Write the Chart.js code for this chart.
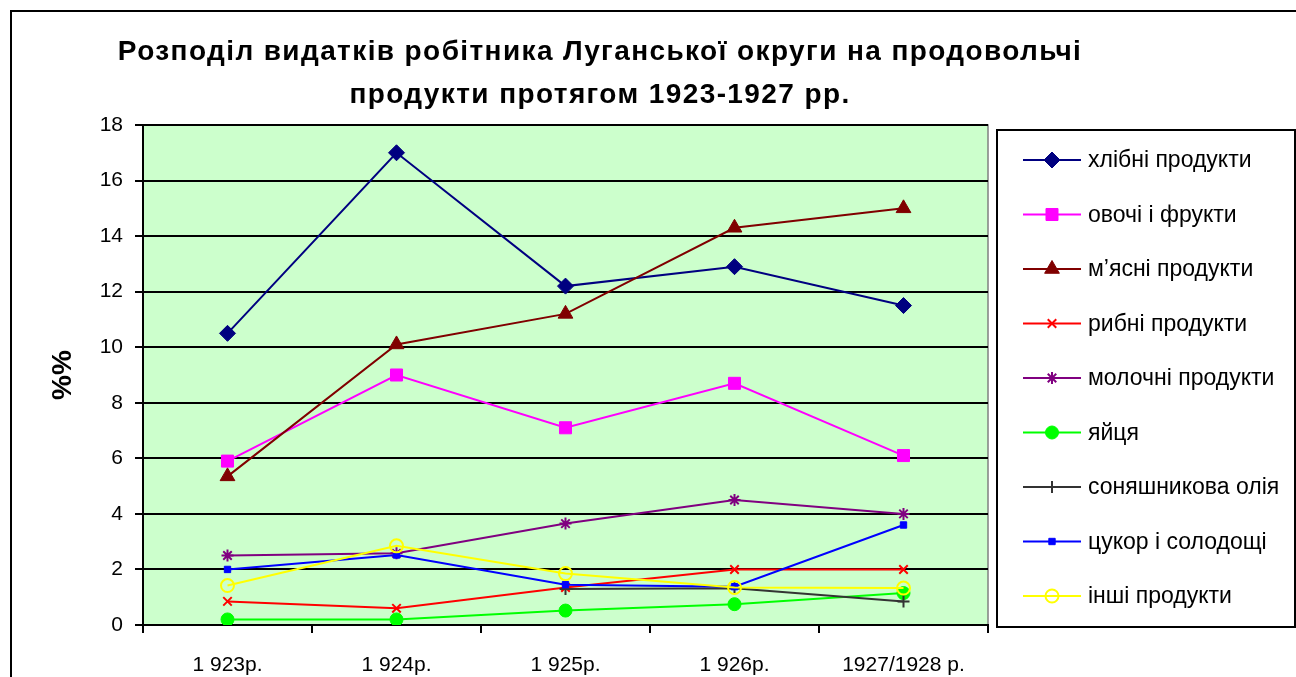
<!DOCTYPE html>
<html>
<head>
<meta charset="utf-8">
<script src="https://cdn.jsdelivr.net/npm/chart.js@4/dist/chart.umd.min.js"></script>
<style>
  html, body { margin: 0; padding: 0; background: #fff; }
  #wrap { width: 1296px; height: 677px; }
</style>
</head>
<body>
<div id="wrap"><canvas id="chart" width="1296" height="677"></canvas></div>
<script>
// Data
const years = ['1 923р.', '1 924р.', '1 925р.', '1 926р.', '1927/1928 р.'];
const yTicks = [0, 2, 4, 6, 8, 10, 12, 14, 16, 18];
const titleLines = [
    'Розподіл видатків робітника Луганської округи на продовольчі',
    'продукти протягом 1923-1927 рр.',
];

const bread = [10.5, 17.0, 12.2, 12.9, 11.5];
const vegetables = [5.9, 9.0, 7.1, 8.7, 6.1];
const meat = [5.35, 10.1, 11.2, 14.3, 15.0];
const fish = [0.85, 0.6, 1.35, 2.0, 2.0];
const dairy = [2.5, 2.58, 3.65, 4.5, 4.0];
const eggs = [0.2, 0.2, 0.52, 0.75, 1.15];
const sunflowerOil = [null, null, 1.3, 1.32, 0.85];
const sugar = [2.0, 2.52, 1.45, 1.38, 3.6];
const other = [1.42, 2.85, 1.85, 1.35, 1.33];

const font = '"Liberation Sans", Arial, sans-serif';

const series = [
    { label: 'хлібні продукти', data: bread, color: '#000080', style: 'rectRot', radius: 8, fill: true },
    { label: 'овочі і фрукти', data: vegetables, color: '#FF00FF', style: 'rect', radius: 8.5, fill: true },
    { label: 'м\u2019ясні продукти', data: meat, color: '#800000', style: 'triangle', radius: 8.5, fill: true },
    { label: 'рибні продукти', data: fish, color: '#FF0000', style: 'crossRot', radius: 6, fill: false },
    { label: 'молочні продукти', data: dairy, color: '#800080', style: 'star', radius: 6, fill: false },
    { label: 'яйця', data: eggs, color: '#00FF00', style: 'circle', radius: 6.5, fill: true },
    { label: 'соняшникова олія', data: sunflowerOil, color: '#333333', style: 'cross', radius: 6, fill: false },
    { label: 'цукор і солодощі', data: sugar, color: '#0000FF', style: 'rect', radius: 4.5, fill: true },
    { label: 'інші продукти', data: other, color: '#FFFF00', style: 'circle', radius: 6.5, fill: false },
];

const datasets = series.map((s, i) => ({
    label: s.label,
    data: s.data,
    borderColor: s.color,
    backgroundColor: s.fill ? s.color : 'rgba(0,0,0,0)',
    borderWidth: 2,
    pointStyle: s.style,
    pointRadius: s.radius,
    pointHoverRadius: s.radius,
    pointBorderWidth: s.fill ? 1 : 2,
    pointBackgroundColor: s.fill ? s.color : 'rgba(0,0,0,0)',
    pointBorderColor: s.color,
    tension: 0,
    spanGaps: false,
    order: series.length - i,
}));

// Frame, plot background, title and legend box
const decor = {
    id: 'decor',
    beforeDraw(chart) {
        const { ctx, chartArea: a } = chart;
        ctx.save();
        ctx.fillStyle = '#ffffff';
        ctx.fillRect(0, 0, chart.width, chart.height);
        ctx.fillStyle = '#CCFFCC';
        ctx.fillRect(a.left, a.top, a.right - a.left, a.bottom - a.top);
        ctx.strokeStyle = '#808080';
        ctx.lineWidth = 1.5;
        ctx.strokeRect(a.left, a.top, a.right - a.left, a.bottom - a.top);
        ctx.strokeStyle = '#000000';
        ctx.lineWidth = 2;
        ctx.beginPath();
        ctx.moveTo(11, chart.height + 5);
        ctx.lineTo(11, 11);
        ctx.lineTo(chart.width + 5, 11);
        ctx.stroke();
        ctx.restore();
    },
    afterDraw(chart) {
        const { ctx } = chart;
        ctx.save();
        ctx.fillStyle = '#000000';
        ctx.textAlign = 'center';
        ctx.textBaseline = 'middle';
        ctx.font = `bold 28px ${font}`;
        ctx.letterSpacing = '1.4px';
        ctx.fillText(titleLines[0], 600, 52);
        ctx.fillText(titleLines[1], 600, 95);
        ctx.letterSpacing = '0px';

        // legend
        ctx.strokeStyle = '#000000';
        ctx.lineWidth = 2;
        ctx.strokeRect(997, 130, 298, 497);
        ctx.textAlign = 'left';
        ctx.font = `23px ${font}`;
        chart.data.datasets.forEach((ds, i) => {
            const y = 160 + i * 54.5;
            ctx.strokeStyle = ds.borderColor;
            ctx.lineWidth = 2;
            ctx.beginPath();
            ctx.moveTo(1023, y);
            ctx.lineTo(1081, y);
            ctx.stroke();
            ctx.fillStyle = ds.pointBackgroundColor;
            ctx.lineWidth = ds.pointBorderWidth;
            Chart.helpers.drawPoint(ctx, {
                pointStyle: ds.pointStyle,
                radius: ds.pointRadius,
                borderWidth: ds.pointBorderWidth,
                rotation: 0,
            }, 1052, y);
            ctx.fillStyle = '#000000';
            ctx.fillText(ds.label, 1088, y + 1);
        });
        ctx.restore();
    },
};

const ctx = document.getElementById('chart').getContext('2d');

// eslint-disable-next-line no-new
new Chart(ctx, {
    type: 'line',
    data: {
        labels: years,
        datasets,
    },
    options: {
        responsive: false,
        animation: false,
        events: [],
        layout: {
            padding: { top: 125, right: 308, bottom: 0, left: 0 },
        },
        plugins: {
            legend: { display: false },
            title: { display: false },
            tooltip: { enabled: false },
        },
        scales: {
            x: {
                offset: true,
                afterFit: (scale) => { scale.height = 52; },
                border: { display: true, color: '#000000', width: 2 },
                grid: {
                    offset: true,
                    drawOnChartArea: false,
                    drawTicks: true,
                    tickLength: 8,
                    color: '#000000',
                    lineWidth: 2,
                },
                ticks: {
                    color: '#000000',
                    padding: 20,
                    font: { family: font, size: 21 },
                    maxRotation: 0,
                },
            },
            y: {
                min: 0,
                max: 18,
                afterFit: (scale) => { scale.width = 143; },
                afterBuildTicks: (scale) => { scale.ticks = yTicks.map((v) => ({ value: v })); },
                border: { display: true, color: '#000000', width: 2 },
                grid: {
                    color: '#000000',
                    lineWidth: 2,
                    tickLength: 8,
                    drawTicks: true,
                },
                ticks: {
                    color: '#000000',
                    padding: 12,
                    font: { family: font, size: 21 },
                },
                title: {
                    display: true,
                    text: '%%',
                    color: '#000000',
                    padding: { top: 46, bottom: 0 },
                    font: { family: font, size: 28, weight: 'bold' },
                },
            },
        },
    },
    plugins: [decor],
});
</script>
</body>
</html>
